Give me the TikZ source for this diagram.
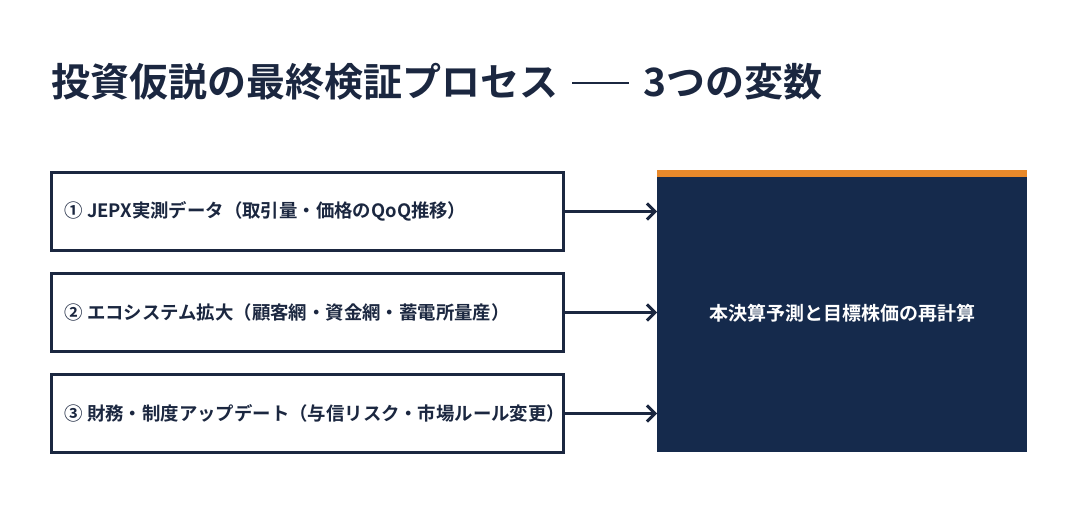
\documentclass[tikz,border=0pt]{standalone}
\usepackage{fontspec}
\setmainfont{Noto Sans CJK JP}
\newfontfamily\jpb{Noto Sans CJK JP Bold}
\usetikzlibrary{arrows.meta}
\definecolor{navy}{HTML}{1B2740}
\definecolor{boxnavy}{HTML}{152A4C}
\definecolor{accent}{HTML}{E8892B}
\tikzset{
  inbox/.style={draw=navy, line width=3pt, fill=white, minimum width=512pt, minimum height=78pt, anchor=north west, inner sep=0pt},
  intext/.style={font=\jpb\fontsize{18.4}{22}\selectfont, text=navy, anchor=west},
  conn/.style={draw=navy, line width=3pt, -{Straight Barb[length=8pt,width=16pt,line width=3pt]}},
}
\begin{document}
\begin{tikzpicture}[x=1pt,y=-1pt]
\useasboundingbox (0,0) rectangle (1065,512);
\fill[white] (0,0) rectangle (1065,512);
\node[font=\jpb\fontsize{39}{44}\selectfont, text=navy, anchor=base west, inner sep=0pt] (title) at (51,96) {投資仮説の最終検証プロセス\hspace{14pt}\rule[12pt]{57pt}{2pt}\hspace{14pt}3つの変数};
\node[inbox] (b1) at (50,171) {};
\node[inbox] (b2) at (50,272) {};
\node[inbox] (b3) at (50,373) {};
\node[intext] (t1) at ([xshift=11pt]b1.west) {① JEPX実測データ（取引量・価格のQoQ推移）};
\node[intext] (t2) at ([xshift=11pt]b2.west) {② エコシステム拡大（顧客網・資金網・蓄電所量産）};
\node[intext] (t3) at ([xshift=11pt]b3.west) {③ 財務・制度アップデート（与信リスク・市場ルール変更）};
\node[fill=boxnavy, minimum width=370pt, minimum height=282pt, anchor=north west, inner sep=0pt] (out) at (657,170) {};
\fill[accent] (out.north west) rectangle ([yshift=-7pt]out.north east);
\node[font=\jpb\fontsize{19}{22}\selectfont, text=white] (ot) at ([yshift=-2pt]out.center) {本決算予測と目標株価の再計算};
\coordinate (e1) at (out.west |- b1.east);
\coordinate (e2) at (out.west |- b2.east);
\coordinate (e3) at (out.west |- b3.east);
\draw[conn] (b1.east) -- (e1);
\draw[conn] (b2.east) -- (e2);
\draw[conn] (b3.east) -- (e3);
\end{tikzpicture}
\end{document}
